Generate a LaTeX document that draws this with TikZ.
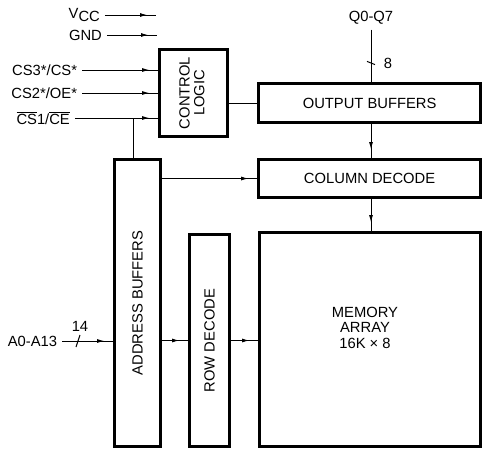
\documentclass[tikz,border=0pt]{standalone}
\usepackage{fontspec}
\setmainfont{Liberation Sans}
\usetikzlibrary{arrows.meta,decorations.markings}

\tikzset{
    blk/.style={draw, rectangle, line width=2pt, inner sep=0pt},
    wire/.style={line width=0.7pt},
    sig/.style={wire, postaction={decorate},
        decoration={markings, mark=at position -0.22cm with {\arrow{Latex[length=1.8mm,width=1mm]}}}},
}

\begin{document}
\begin{tikzpicture}[font=\fontsize{10.5}{12.5}\selectfont]
    \useasboundingbox (0,0) rectangle (12.075,-11.25);

    % blocks
    \node[blk, minimum width=1.7cm, minimum height=2.175cm] (ctrl) at (4.8375,-2.325) {\rotatebox{90}{\begin{tabular}{@{}c@{}}CONTROL\\[-2pt]LOGIC\end{tabular}}};
    \node[blk, minimum width=5.55cm, minimum height=0.975cm] (outbuf) at (9.24,-2.575) {OUTPUT BUFFERS};
    \node[blk, minimum width=5.55cm, minimum height=0.95cm] (coldec) at (9.24,-4.4625) {COLUMN DECODE};
    \node[blk, minimum width=1.15cm, minimum height=7.175cm] (addr) at (3.4375,-7.575) {\rotatebox{90}{ADDRESS BUFFERS}};
    \node[blk, minimum width=1cm, minimum height=5.3cm] (rowdec) at (5.2375,-8.5125) {\rotatebox{90}{ROW DECODE}};
    \node[blk, minimum width=5.525cm, minimum height=5.35cm] (mem) at (9.25,-8.4875) {};
    \node[align=center, inner sep=0pt] (memtxt) at (9.125,-8.19) {MEMORY\\[-1.5pt]ARRAY\\[-1.5pt]16K × 8};

    % pins
    \node[anchor=east] (vcc) at (2.62,-0.375) {V\raisebox{-0.35ex}{CC}};
    \node[anchor=east] (gnd) at (2.67,-0.875) {GND};
    \node[anchor=east] (cs3) at (2.05,-1.75) {CS3*/CS*};
    \node[anchor=east] (cs2) at (2.05,-2.325) {CS2*/OE*};
    \node[anchor=east] (cs1) at (1.87,-2.95) {$\overline{\mbox{CS}}$1/$\overline{\mbox{CE}}$};
    \node[anchor=east] (addrin) at (1.55,-8.525) {A0-A13};
    \node (q) at (9.275,-0.45) {Q0-Q7};
    \coordinate (vccend) at (3.9,-0.375);
    \coordinate (gndend) at (3.925,-0.875);
    \coordinate (tap) at (3.325,-2.95);
    \coordinate (qbit) at (9.275,-1.575);
    \coordinate (abit) at (1.95,-8.525);

    \draw[sig] (vcc) -- (vccend);
    \draw[sig] (gnd) -- (gndend);
    \draw[sig] (cs3) -- (cs3 -| ctrl.west);
    \draw[sig] (cs2) -- (cs2 -| ctrl.west);
    \draw[sig] (cs1) -- (cs1 -| ctrl.west);
    \draw[wire] (tap) -- (tap |- addr.north);
    \draw[wire] (ctrl.east |- outbuf.west) -- (outbuf.west);
    \draw[wire] (q) -- (q |- outbuf.north);
    \draw[sig] (q |- outbuf.south) -- (q |- coldec.north);
    \draw[sig] (q |- coldec.south) -- (q |- mem.north);
    \draw[sig] (addr.east |- coldec.west) -- (coldec.west);
    \draw[sig] (addrin) -- (addrin -| addr.west);
    \draw[sig] (addr.east |- rowdec.west) -- (rowdec.west);
    \draw[sig] (rowdec.east) -- (rowdec.east -| mem.west);

    % bus widths
    \draw[wire] ([shift={(-0.1,0.04)}]qbit) -- ([shift={(0.1,-0.04)}]qbit);
    \node (qw) at (9.7,-1.575) {8};
    \draw[wire] ([shift={(-0.05,-0.15)}]abit) -- ([shift={(0.05,0.15)}]abit);
    \node (aw) at (2.0,-8.15) {14};
\end{tikzpicture}
\end{document}
